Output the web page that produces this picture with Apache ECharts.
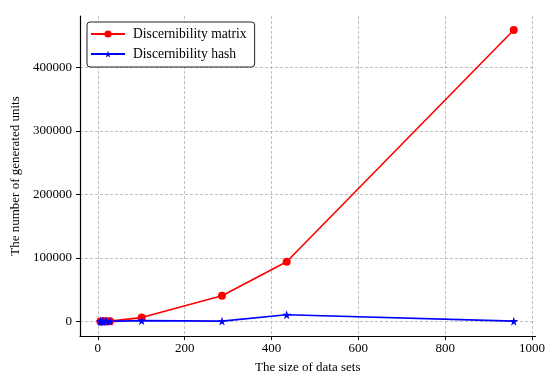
<!DOCTYPE html>
<html>
<head>
<meta charset="utf-8">
<script src="https://cdn.jsdelivr.net/npm/echarts@6/dist/echarts.min.js"></script>
<style>
  html, body { margin: 0; padding: 0; background: #fff; }
  #chart { width: 548px; height: 379px; }
</style>
</head>
<body>
<div id="chart"></div>
<script>
// data
var sizes = [6, 10, 14, 20, 28, 101, 286, 435, 958];
var matrixUnits = [20, 50, 100, 200, 400, 6000, 40500, 94000, 459000];
var hashUnits = [10, 20, 30, 50, 80, 1200, 500, 10500, 400];
var xTicks = [0, 200, 400, 600, 800, 1000];
var yTicks = [0, 100000, 200000, 300000, 400000];

var starPath = "path://M50,0 L61,35 L98,35 L68,57 L79,91 L50,70 L21,91 L32,57 L2,35 L39,35 Z";
var font = "Liberation Serif";

function pairs(xs, ys) {
  return xs.map(function (x, i) { return [x, ys[i]]; });
}
function plain(v) { return String(v); }

var chartDom = document.getElementById("chart");
var myChart = echarts.init(chartDom, null, { renderer: "canvas" });
var option = {
  animation: false,
  textStyle: { fontFamily: font },
  grid: { left: 80, right: 10, top: 16, bottom: 39, containLabel: false },
  legend: {
    left: 87,
    top: 22,
    orient: "vertical",
    padding: [5, 8, 6, 3],
    itemGap: 6,
    itemWidth: 34,
    itemHeight: 9,
    backgroundColor: "#fff",
    borderColor: "#222",
    borderWidth: 1,
    borderRadius: 3,
    textStyle: { fontFamily: font, fontSize: 13.6, color: "#000", padding: [0, 0, 0, 3] },
    data: ["Discernibility matrix", "Discernibility hash"],
  },
  xAxis: {
    type: "value",
    min: -41,
    max: 1008,
    name: "The size of data sets",
    nameLocation: "middle",
    nameGap: 25,
    nameTextStyle: { fontFamily: font, fontSize: 13, color: "#000" },
    axisLine: { show: true, onZero: false, lineStyle: { color: "#000", width: 1.2 } },
    axisTick: { show: true, length: 4, customValues: xTicks, lineStyle: { color: "#000" } },
    axisLabel: { customValues: xTicks, formatter: plain, fontFamily: font, fontSize: 13, color: "#000", margin: 6 },
    splitLine: { show: true, lineStyle: { color: "#b0b0b0", type: [3, 2], width: 0.8 } },
  },
  yAxis: {
    type: "value",
    min: -23000,
    max: 481000,
    name: "The number of generated units",
    nameLocation: "middle",
    nameGap: 56,
    nameTextStyle: { fontFamily: font, fontSize: 13, color: "#000" },
    axisLine: { show: true, onZero: false, lineStyle: { color: "#000", width: 1.2 } },
    axisTick: { show: true, length: 4, customValues: yTicks, lineStyle: { color: "#000" } },
    axisLabel: { customValues: yTicks, formatter: plain, fontFamily: font, fontSize: 13, color: "#000", margin: 8 },
    splitLine: { show: true, lineStyle: { color: "#b0b0b0", type: [3, 2], width: 0.8 } },
  },
  series: [
    {
      name: "Discernibility matrix",
      type: "line",
      data: pairs(sizes, matrixUnits),
      symbol: "circle",
      symbolSize: 8,
      showAllSymbol: true,
      color: "#ff0000",
      lineStyle: { color: "#ff0000", width: 1.6 },
      itemStyle: { color: "#ff0000" },
    },
    {
      name: "Discernibility hash",
      type: "line",
      data: pairs(sizes, hashUnits),
      symbol: starPath,
      symbolSize: 9,
      showAllSymbol: true,
      color: "#0000ff",
      lineStyle: { color: "#0000ff", width: 1.6 },
      itemStyle: { color: "#0000ff" },
    },
  ],
};
option && myChart.setOption(option);
</script>
</body>
</html>
